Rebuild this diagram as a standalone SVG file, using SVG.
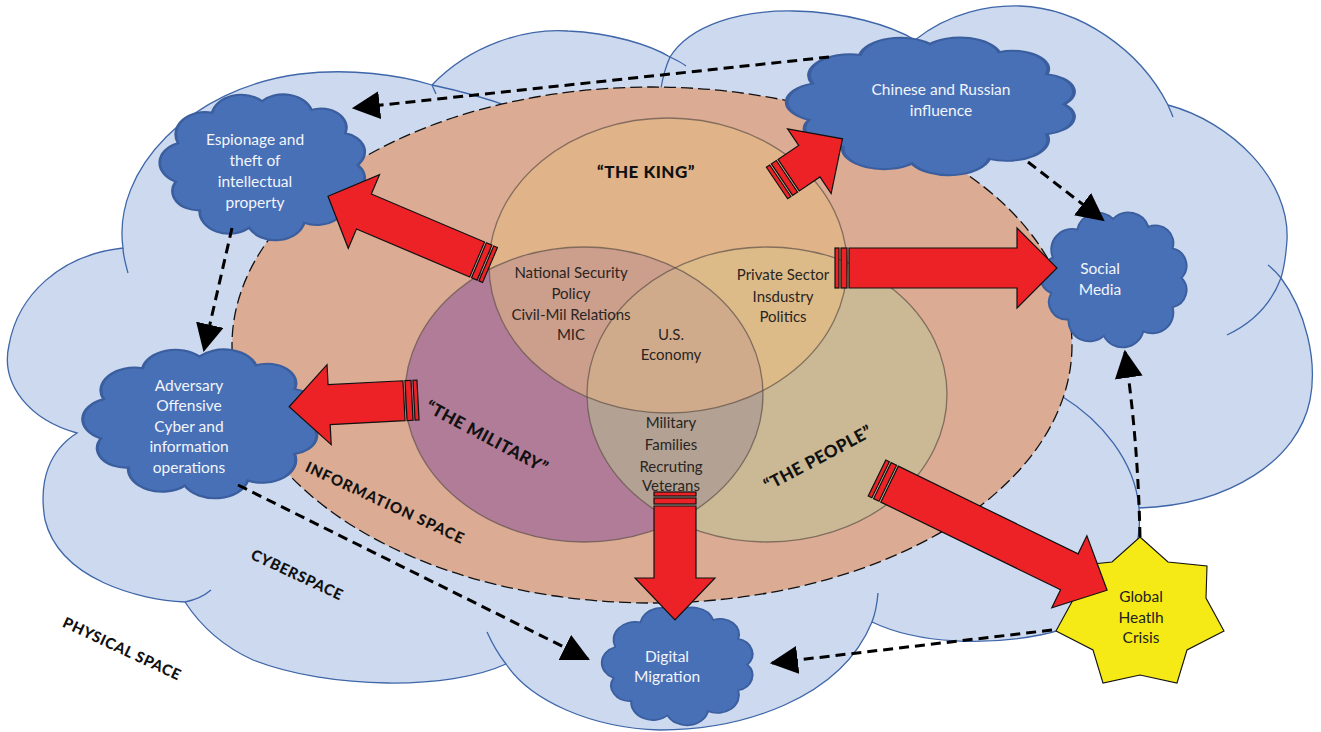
<svg xmlns="http://www.w3.org/2000/svg" width="1321" height="732" viewBox="0 0 1321 732">
<style>
.bgc{fill:#ccd9ef;stroke:#3e66a8;stroke-width:1.3}
.arc{fill:none;stroke:#3e66a8;stroke-width:1.3}
.info{fill:#dbab93;stroke:#111;stroke-width:1.3;stroke-dasharray:12 5}
.vs{fill:none;stroke:#5e5048;stroke-opacity:0.7;stroke-width:1.3}
.cloud{fill:#4870b7;stroke:#3a5e9e;stroke-width:1.3}
.ct{font-family:Lato,"Open Sans",sans-serif;font-size:15.5px;fill:#f2f5fb;text-anchor:middle}
.vt{font-family:Lato,"Open Sans",sans-serif;font-size:15px;fill:#2a2522;text-anchor:middle}
.st{font-family:Lato,"Open Sans",sans-serif;font-size:15.5px;fill:#222;text-anchor:middle}
.lab{font-family:Lato,"Open Sans",sans-serif;font-weight:900;font-size:15px;fill:#111;text-anchor:middle}
.big{font-size:17px}
.ra{fill:#ec2227;stroke:#111;stroke-width:1.2;stroke-linejoin:miter}
.dl{fill:none;stroke:#000;stroke-width:3;stroke-dasharray:10 6}
</style>
<defs>
<marker id="ah" markerUnits="userSpaceOnUse" markerWidth="28" markerHeight="28" refX="24" refY="13" orient="auto" viewBox="0 0 26 26"><path d="M0,0 L26,13 L0,26 Z" fill="#000"/></marker>
<clipPath id="cK"><ellipse cx="668" cy="265.5" rx="179" ry="147.5"/></clipPath>
<clipPath id="cM"><ellipse cx="584" cy="394.5" rx="179" ry="147.5"/></clipPath>
<path id="cl" d="M8.6,36.3 A14,14 0 0 1 24.8,17.2 A14,14 0 0 1 48.5,10 A14,14 0 0 1 72,15.4 A12,12 0 0 1 88.1,30 A12,12 0 0 1 94,50 A12,12 0 0 1 88.1,70 A14,14 0 0 1 68.6,86.3 A14,14 0 0 1 42.4,89.4 A14,14 0 0 1 18.9,78.3 A12,12 0 0 1 7.5,60.4 A13,13 0 0 1 8.6,36.3 Z"/>
</defs>

<g id="cyberspace">
<path class="bgc" d="M77,433 C30,420 0,385 9,345 C18,295 60,255 123,248 C112,170 190,88 300,74 C350,68 400,75 432,85 C470,45 525,28 568,31 C612,33 650,45 670,57 C690,25 740,10 794,11 C845,12 890,25 915,40 C950,12 990,5 1020,6 C1080,8 1140,50 1168,105 C1232,122 1290,180 1287,240 C1286,255 1284,268 1281,278 C1305,310 1318,360 1310,400 C1298,460 1230,505 1139,508 C1145,570 1100,625 1040,635 C990,645 920,645 872,622 C840,700 740,730 660,730 C590,728 530,700 506,664 C450,690 330,690 253,660 C220,645 200,625 185,602 C140,600 60,580 45,520 C38,480 50,450 77,433 Z"/>
<path class="arc" d="M128,273 C125,262 123,255 123,248"/>
<path class="arc" d="M432,85 C465,92 495,100 525,113"/>
<path class="arc" d="M436,94 L432,85"/>
<path class="arc" d="M661,88 C663,76 666,66 670,57"/>
<path class="arc" d="M670,57 C676,60 681,62 686,66"/>
<path class="arc" d="M1168,105 C1170,110 1172,114 1173,117"/>
<path class="arc" d="M1281,278 C1272,302 1255,322 1227,335"/>
<path class="arc" d="M1268,265 C1273,269 1277,273 1281,278"/>
<path class="arc" d="M1063,397 C1100,420 1135,460 1139,508"/>
<path class="arc" d="M878,593 C877,605 875,614 872,622"/>
<path class="arc" d="M506,664 C498,654 492,643 487,632"/>
<path class="arc" d="M185,602 C195,600 204,596 211,590"/>
</g>

<g id="information-space">
<ellipse class="info" cx="652" cy="345" rx="420" ry="258"/>
</g>

<g id="venn">
<ellipse cx="584" cy="394.5" rx="179" ry="147.5" fill="#b07c98"/>
<ellipse cx="767" cy="394.5" rx="180" ry="147.5" fill="#cab994"/>
<ellipse cx="668" cy="265.5" rx="179" ry="147.5" fill="#e0b488"/>
<ellipse cx="584" cy="394.5" rx="179" ry="147.5" fill="#cc9e8c" clip-path="url(#cK)"/>
<ellipse cx="767" cy="394.5" rx="180" ry="147.5" fill="#dcbb89" clip-path="url(#cK)"/>
<ellipse cx="767" cy="394.5" rx="180" ry="147.5" fill="#b3a193" clip-path="url(#cM)"/>
<g clip-path="url(#cK)"><ellipse cx="767" cy="394.5" rx="180" ry="147.5" fill="#d0ab8b" clip-path="url(#cM)"/></g>
<ellipse class="vs" cx="584" cy="394.5" rx="179" ry="147.5"/>
<ellipse class="vs" cx="767" cy="394.5" rx="180" ry="147.5"/>
<ellipse class="vs" cx="668" cy="265.5" rx="179" ry="147.5"/>
<text class="vt" x="571" y="278">National Security</text>
<text class="vt" x="571" y="299">Policy</text>
<text class="vt" x="571" y="320">Civil-Mil Relations</text>
<text class="vt" x="571" y="340">MIC</text>
<text class="vt" x="671" y="340">U.S.</text>
<text class="vt" x="671" y="360">Economy</text>
<text class="vt" x="783" y="280">Private Sector</text>
<text class="vt" x="783" y="302">Insdustry</text>
<text class="vt" x="783" y="322">Politics</text>
<text class="vt" x="671" y="428">Military</text>
<text class="vt" x="671" y="450">Families</text>
<text class="vt" x="671" y="472">Recruting</text>
<text class="vt" x="671" y="491">Veterans</text>
</g>

<g id="labels">
<text class="lab big" x="646" y="178" letter-spacing="0.5">“THE KING”</text>
<text class="lab big" x="487" y="443" transform="rotate(28 487 437)" letter-spacing="0.5">“THE MILITARY”</text>
<text class="lab big" x="818" y="464" transform="rotate(-28 818 458)" letter-spacing="0.5">“THE PEOPLE”</text>
<text class="lab" x="385" y="508" transform="rotate(25 385 503)" letter-spacing="1">INFORMATION SPACE</text>
<text class="lab" x="297" y="580" transform="rotate(25 297 575)" letter-spacing="0.6">CYBERSPACE</text>
<text class="lab" x="122" y="654" transform="rotate(25 122 649)" letter-spacing="0.6">PHYSICAL SPACE</text>
</g>

<g id="espionage">
<use href="#cl" class="cloud" transform="translate(160 85.4) scale(2.103 1.593)"/>
<text class="ct" x="255" y="145">Espionage and</text>
<text class="ct" x="255" y="166">theft of</text>
<text class="ct" x="255" y="187">intellectual</text>
<text class="ct" x="255" y="208">property</text>
</g>
<g id="chinese-russian">
<use href="#cl" class="cloud" transform="translate(787 28.97) scale(2.948 1.505)"/>
<text class="ct" x="941" y="95">Chinese and Russian</text>
<text class="ct" x="941" y="116">influence</text>
</g>
<g id="social-media">
<use href="#cl" class="cloud" transform="translate(1040 204.16) scale(1.505 1.473)"/>
<text class="ct" x="1100" y="274">Social</text>
<text class="ct" x="1100" y="295">Media</text>
</g>
<g id="adversary">
<use href="#cl" class="cloud" transform="translate(83 340.24) scale(2.402 1.626)"/>
<text class="ct" x="189" y="391">Adversary</text>
<text class="ct" x="189" y="411">Offensive</text>
<text class="ct" x="189" y="432">Cyber and</text>
<text class="ct" x="189" y="452">information</text>
<text class="ct" x="189" y="473">operations</text>
</g>
<g id="digital-migration">
<use href="#cl" class="cloud" transform="translate(602 600.29) scale(1.546 1.286)"/>
<text class="ct" x="667" y="662">Digital</text>
<text class="ct" x="667" y="682">Migration</text>
</g>

<g id="global-health">
<polygon fill="#f6ea16" stroke="#111" stroke-width="1.1" points="1140,537 1168,562 1207,566 1206,598 1224,631 1187,650 1177,683 1140,675 1103,683 1093,650 1056,631 1074,598 1073,566 1112,562"/>
<text class="st" x="1141" y="602">Global</text>
<text class="st" x="1141" y="623">Heatlh</text>
<text class="st" x="1141" y="643">Crisis</text>
</g>

<g id="connectors">
<path class="dl" marker-end="url(#ah)" d="M829,57 L354,108"/>
<path class="dl" marker-end="url(#ah)" d="M1028,162 L1103,220"/>
<path class="dl" marker-end="url(#ah)" d="M232,228 L204,350"/>
<path class="dl" marker-end="url(#ah)" d="M238,485 L588,659"/>
<path class="dl" marker-end="url(#ah)" d="M1052,630 L772,663"/>
<path class="dl" marker-end="url(#ah)" d="M1140,537 Q1138,440 1125,352"/>
</g>

<g id="red-arrows">
<g transform="translate(835 268)"><rect class="ra" x="0" y="-20" width="4" height="40"/><rect class="ra" x="6" y="-20" width="6" height="40"/><path class="ra" d="M14,-20 L182,-20 L182,-40 L222,0 L182,40 L182,20 L14,20 Z"/></g>
<g transform="translate(777 183) rotate(-34)"><rect class="ra" x="0" y="-19" width="4" height="38"/><rect class="ra" x="6" y="-19" width="6" height="38"/><path class="ra" d="M14,-19 L39,-19 L39,-39 L79,0 L39,39 L39,19 L14,19 Z"/></g>
<g transform="translate(490 265) rotate(-157)"><rect class="ra" x="0" y="-19" width="4" height="38"/><rect class="ra" x="6" y="-19" width="6" height="38"/><path class="ra" d="M14,-19 L137,-19 L137,-40 L176,0 L137,40 L137,19 L14,19 Z"/></g>
<g transform="translate(418 400) rotate(177)"><rect class="ra" x="0" y="-20" width="4" height="40"/><rect class="ra" x="6" y="-20" width="6" height="40"/><path class="ra" d="M14,-20 L89,-20 L89,-40 L129,0 L89,40 L89,20 L14,20 Z"/></g>
<g transform="translate(675 492) rotate(90)"><rect class="ra" x="0" y="-21" width="4" height="42"/><rect class="ra" x="6" y="-21" width="6" height="42"/><path class="ra" d="M14,-21 L86,-21 L86,-40 L128,0 L86,40 L86,21 L14,21 Z"/></g>
<g transform="translate(877 478) rotate(26)"><rect class="ra" x="0" y="-20" width="4" height="40"/><rect class="ra" x="6" y="-20" width="6" height="40"/><path class="ra" d="M14,-20 L214,-20 L214,-40 L256,0 L214,40 L214,20 L14,20 Z"/></g>
</g>
</svg>
